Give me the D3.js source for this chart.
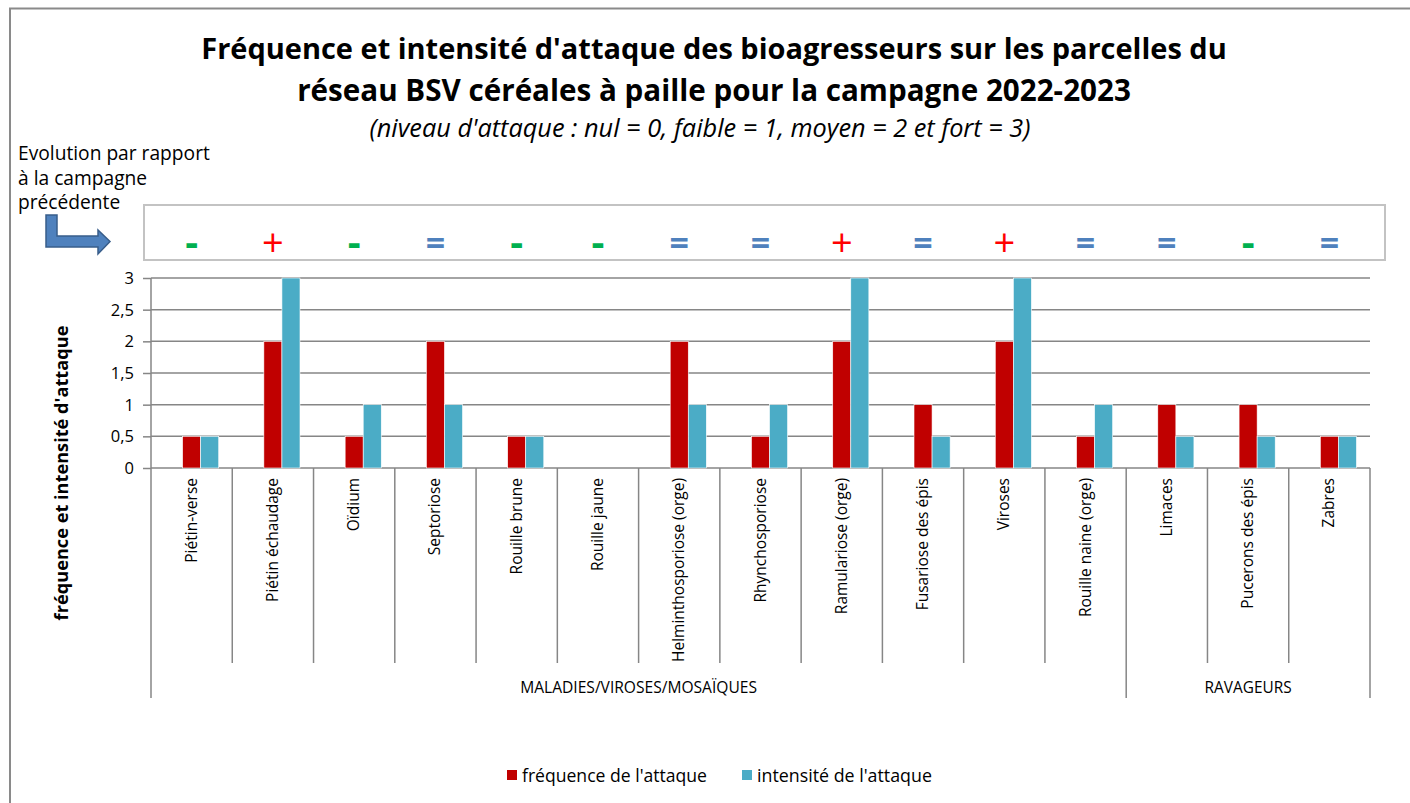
<!DOCTYPE html>
<html><head><meta charset="utf-8">
<script src="https://cdn.jsdelivr.net/npm/d3@7"></script>
<style>
html,body{margin:0;padding:0;background:#fff;}
svg{display:block;}
text{font-family:"Open Sans","Noto Sans",sans-serif;fill:#000;}
</style></head>
<body>
<svg id="chart" width="1410" height="803"></svg>
<script>
// ---------- DATA ----------
const categories = ["Piétin-verse","Piétin échaudage","Oïdium","Septoriose","Rouille brune","Rouille jaune","Helminthosporiose (orge)","Rhynchosporiose","Ramulariose (orge)","Fusariose des épis","Viroses","Rouille naine (orge)","Limaces","Pucerons des épis","Zabres"];
const frequence = [0.5,2,0.5,2,0.5,0,2,0.5,2,1,2,0.5,1,1,0.5];
const intensite = [0.5,3,1,1,0.5,0,1,1,3,0.5,3,1,0.5,0.5,0.5];
const evolution = ["-","+","-","=","-","-","=","=","+","=","+","=","=","-","="];
const groupNames = ["MALADIES/VIROSES/MOSAÏQUES","RAVAGEURS"];
const groupSizes = [12,3];
const yTicks = [0,0.5,1,1.5,2,2.5,3];
const seriesKeys = ["evolution","frequence","intensite"]; // first series is hidden (empty)
const seriesNames = ["fréquence de l'attaque","intensité de l'attaque"];
const titleLines = ["Fréquence et intensité d'attaque des bioagresseurs sur les parcelles du","réseau BSV céréales à paille pour la campagne 2022-2023"];
const subtitle = "(niveau d'attaque : nul = 0, faible = 1, moyen = 2 et fort = 3)";
const evolLabel = ["Evolution par rapport","à la campagne","précédente"];
const yTitle = "fréquence et intensité d'attaque";

// ---------- STYLE ----------
const colors = {frequence:"#c00000", intensite:"#4bacc6"};
const evolColors = {"-":"#00b050","+":"#ff0000","=":"#4f81bd"};
const gridColor = "#868686";

const svg = d3.select("#chart");
const loc = d3.formatLocale({decimal:",",thousands:" ",grouping:[3],currency:["","€"]});
const fmt = loc.format("~g");

function fit(sel, w){
  const n = sel.node();
  const fs = parseFloat(sel.attr("font-size"));
  const cur = n.getComputedTextLength();
  const f = fs*w/cur;
  sel.attr("font-size", f);
  return f;
}

// outer frame
svg.append("rect").attr("x",10).attr("y",8.5).attr("width",1420).attr("height",820)
  .attr("fill","none").attr("stroke","#8a8a8a").attr("stroke-width",2);

// scales
const x0 = d3.scaleBand().domain(categories).range([151,1370]).padding(0);
const x1 = d3.scaleBand().domain(seriesKeys).range([0,x0.bandwidth()]).paddingInner(0).paddingOuter(0.75);
const y = d3.scaleLinear().domain([0,3]).range([468,278]);

// title
titleLines.forEach((t,i)=>{
  const s = svg.append("text").attr("x",714).attr("y",[59,101][i]).attr("text-anchor","middle")
    .attr("font-weight","bold").attr("font-size",24).text(t);
  fit(s,[1026,834][i]);
});
const st = svg.append("text").attr("x",700).attr("y",137).attr("text-anchor","middle")
  .attr("font-style","italic").attr("font-size",17).text(subtitle);
fit(st,661);

// evolution annotation
const el0 = svg.append("text").attr("x",18).attr("y",160).attr("font-size",16).text(evolLabel[0]);
const elf = fit(el0,192);
evolLabel.slice(1).forEach((t,i)=>{
  svg.append("text").attr("x",18).attr("y",160+(i+1)*24.5).attr("font-size",elf).text(t);
});
svg.append("path")
  .attr("d","M46,215 L57,215 L57,236 L98,236 L98,230 L110,241.5 L98,254 L98,247 L46,247 Z")
  .attr("fill","#4f81bd").attr("stroke","#385d8a").attr("stroke-width",1.5);

// evolution box
svg.append("rect").attr("x",144).attr("y",205).attr("width",1241).attr("height",55)
  .attr("fill","#fff").attr("stroke","#c3c3c3").attr("stroke-width",2);
svg.append("g").selectAll("text").data(categories).join("text")
  .attr("x",d=>x0(d)+x0.bandwidth()/2).attr("y",(d,i)=>evolution[i]==="-"?256:(evolution[i]==="+"?256:255))
  .attr("text-anchor","middle").attr("font-size",(d,i)=>evolution[i]==="-"?40:(evolution[i]==="+"?38:34))
  .attr("font-weight",(d,i)=>evolution[i]==="+"?"normal":"bold")
  .style("fill",(d,i)=>evolColors[evolution[i]])
  .text((d,i)=>evolution[i]);

// gridlines + y axis
const yAxis = d3.axisLeft(y).tickValues(yTicks).tickSize(8).tickFormat(fmt);
const gy = svg.append("g").attr("transform","translate(151,0)").call(yAxis);
gy.select(".domain").remove();
gy.selectAll(".tick line").attr("stroke",gridColor).attr("stroke-width",1.5);
gy.selectAll(".tick text").attr("font-size",16.5).attr("x",-17).attr("dy","0.34em").style("font-family",'"Open Sans","Noto Sans",sans-serif').attr("fill","#000");
svg.append("g").selectAll("line").data(yTicks).join("line")
  .attr("x1",151).attr("x2",1370).attr("y1",d=>y(d)).attr("y2",d=>y(d))
  .attr("stroke",gridColor).attr("stroke-width",1.5);

// bars
const bars = svg.append("g");
categories.forEach((c,i)=>{
  [["frequence",frequence[i]],["intensite",intensite[i]]].forEach(([k,v])=>{
    if(v<=0) return;
    bars.append("rect").attr("x",x0(c)+x1(k)).attr("width",x1.bandwidth())
      .attr("y",y(v)).attr("height",y(0)-y(v)).attr("fill",colors[k])
      .attr("stroke","#fff").attr("stroke-width",0.6);
  });
});

// x axis lines
svg.append("line").attr("x1",151).attr("x2",151).attr("y1",278).attr("y2",698).attr("stroke",gridColor).attr("stroke-width",1.5);
let cum = 0;
const groupBounds = groupSizes.map(n=>{const a=cum; cum+=n; return [a,cum];});
categories.forEach((c,i)=>{
  const xr = x0(c)+x0.bandwidth();
  const isGroupEnd = groupBounds.some(b=>b[1]===i+1);
  svg.append("line").attr("x1",xr).attr("x2",xr).attr("y1",468).attr("y2",isGroupEnd?698:663)
    .attr("stroke",gridColor).attr("stroke-width",1.5);
});
// category labels (font sized so the longest label matches)
const catLabels = svg.append("g").selectAll("text").data(categories).join("text")
  .attr("transform",d=>`translate(${x0(d)+x0.bandwidth()/2+5},478) rotate(-90)`)
  .attr("text-anchor","end").attr("font-size",12).text(d=>d);
const longest = d3.max(catLabels.nodes(), n=>n.getComputedTextLength());
catLabels.attr("font-size",12*184/longest);
// group labels
groupNames.forEach((g,i)=>{
  const b = groupBounds[i];
  const xa = x0(categories[b[0]]), xb = x0(categories[b[1]-1])+x0.bandwidth();
  const s = svg.append("text").attr("x",(xa+xb)/2).attr("y",693).attr("text-anchor","middle")
    .attr("font-size",13).text(g);
  if(i===0) fit(s,237); else fit(s,87);
});

// y title
const yt = svg.append("text").attr("transform","translate(68,473) rotate(-90)")
  .attr("text-anchor","middle").attr("font-weight","bold").attr("font-size",16).text(yTitle);
fit(yt,295);

// legend
const leg = [{k:"frequence",x:507,w:185},{k:"intensite",x:742,w:175}];
leg.forEach((l,i)=>{
  svg.append("rect").attr("x",l.x).attr("y",770).attr("width",10).attr("height",10).attr("fill",colors[l.k]);
  const s = svg.append("text").attr("x",l.x+15).attr("y",782).attr("font-size",15.5).text(seriesNames[i]);
  fit(s,l.w);
});
</script>
</body></html>
